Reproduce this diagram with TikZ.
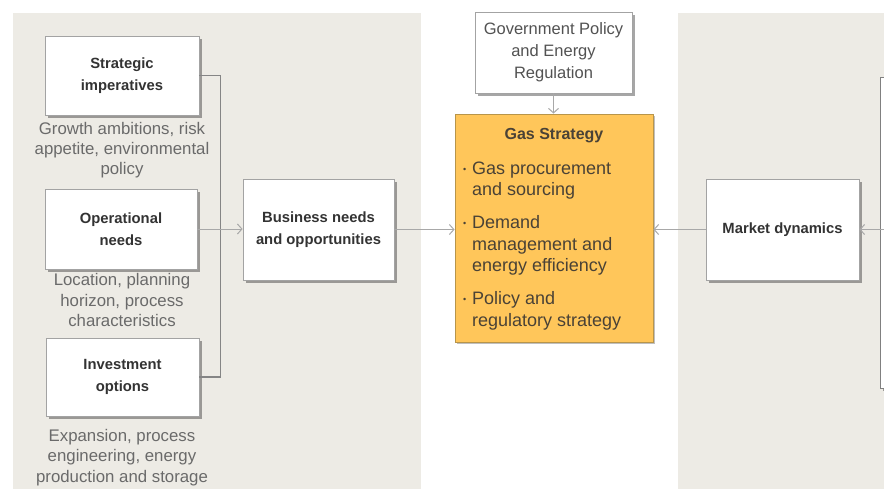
\documentclass[tikz,border=0pt]{standalone}
\usepackage{fontspec}
\setmainfont{Liberation Sans}
\usetikzlibrary{arrows.meta,shadows,calc}

\definecolor{panelbg}{HTML}{EDEBE5}
\definecolor{boxline}{HTML}{A3A3A3}
\definecolor{gasfill}{HTML}{FFC65A}
\definecolor{gasline}{HTML}{B8954A}
\definecolor{titletext}{HTML}{333333}
\definecolor{notetext}{HTML}{6A6A6A}
\definecolor{gastext}{HTML}{4A4236}
\definecolor{flowline}{HTML}{A8A8A8}
\definecolor{bracketline}{HTML}{858585}

\tikzset{
  panel/.style={fill=panelbg, draw=none},
  card/.style={draw=boxline, line width=0.8pt, fill=white, inner sep=2pt, align=center,
    drop shadow={shadow xshift=2.5pt, shadow yshift=-2.5pt, fill=black, opacity=0.35}},
  cardtitle/.style={card, text=titletext, font=\fontsize{14.8}{22.5}\selectfont\bfseries},
  govcard/.style={card, text=titletext!85, font=\fontsize{16.5}{22}\selectfont},
  gascard/.style={draw=gasline, line width=0.9pt, fill=gasfill,
    drop shadow={shadow xshift=2pt, shadow yshift=-2pt, fill=black, opacity=0.25}},
  gastitle/.style={text=gastext, font=\fontsize{16}{20}\selectfont\bfseries, inner sep=0pt},
  gasitem/.style={text=gastext, font=\fontsize{18}{21.8}\selectfont, align=left,
    anchor=west, inner sep=0pt},
  note/.style={text=notetext, font=\fontsize{16.8}{20.2}\selectfont, align=center, inner sep=0pt},
  flow/.style={draw=flowline, line width=1pt, -{Straight Barb[length=4.5pt,width=10pt]}},
  bracket/.style={draw=bracketline, line width=1.2pt},
}

\newcommand{\gasbullet}{\makebox[9pt][l]{\raisebox{2pt}{\fontsize{9}{9}\selectfont\textbullet}}}

\begin{document}
\begin{tikzpicture}[x=1pt, y=-1pt]
  \useasboundingbox (0,0) rectangle (884,488);
  \clip (0,0) rectangle (884,488);
  \fill[white] (0,0) rectangle (884,488);

  % background panels
  \path[panel] (13,13) rectangle (421,500);
  \path[panel] (678,13) rectangle (900,500);

  % partly visible card on the far right
  \node[card, draw=gray, minimum width=40pt, minimum height=311pt, anchor=north west] (edge) at (880,77) {};

  % left column: drivers
  \node[cardtitle, minimum width=154pt, minimum height=79pt] (si) at (122,75.5)
    {Strategic\\imperatives};
  \node[note] (sinote) at (122,150) {Growth ambitions, risk\\appetite, environmental\\policy};

  \node[cardtitle, minimum width=152pt, minimum height=80pt] (on) at (121,229)
    {Operational\\needs};
  \node[note] (onnote) at (122,300) {Location, planning\\horizon, process\\characteristics};

  \node[cardtitle, minimum width=153pt, minimum height=78pt] (io) at (122.5,377)
    {Investment\\options};
  \node[note] (ionote) at (122,457.5) {Expansion, process\\engineering, energy\\production and storage};

  % business needs
  \node[cardtitle, minimum width=151pt, minimum height=101pt] (bn) at (318.5,229.5)
    {Business needs\\and opportunities};

  % policy card
  \node[govcard, minimum width=157pt, minimum height=81pt] (gp) at (553.5,52.5)
    {Government Policy\\and Energy\\Regulation};

  % gas strategy
  \node[gascard, minimum width=198pt, minimum height=228pt] (gs) at (554,228) {};
  \node[gastitle] (gst) at (554,136) {Gas Strategy};
  \node[gasitem] (g1) at (463,180.5) {\gasbullet Gas procurement\\\hspace*{9pt}and sourcing};
  \node[gasitem] (g2) at (463,245.5) {\gasbullet Demand\\\hspace*{9pt}management and\\\hspace*{9pt}energy efficiency};
  \node[gasitem] (g3) at (463,311) {\gasbullet Policy and\\\hspace*{9pt}regulatory strategy};

  % market dynamics
  \node[cardtitle, minimum width=153pt, minimum height=101pt] (md) at (782.5,229.5)
    {Market dynamics};

  % connectors
  \draw[bracket] (si.east) -- ($(si.east)+(21,0)$) |- (io.east);
  \draw[flow] (on.east) -- (on.east -| bn.west);
  \draw[flow] (bn.east) -- (bn.east -| gs.west);
  \draw[flow] (gp.south) -- (gp.south |- gs.north);
  \draw[flow] (md.west) -- (md.west -| gs.east);
  \coordinate (mdin) at (884,229.5);
  \draw[flow] (mdin) -- (md.east);
\end{tikzpicture}
\end{document}
